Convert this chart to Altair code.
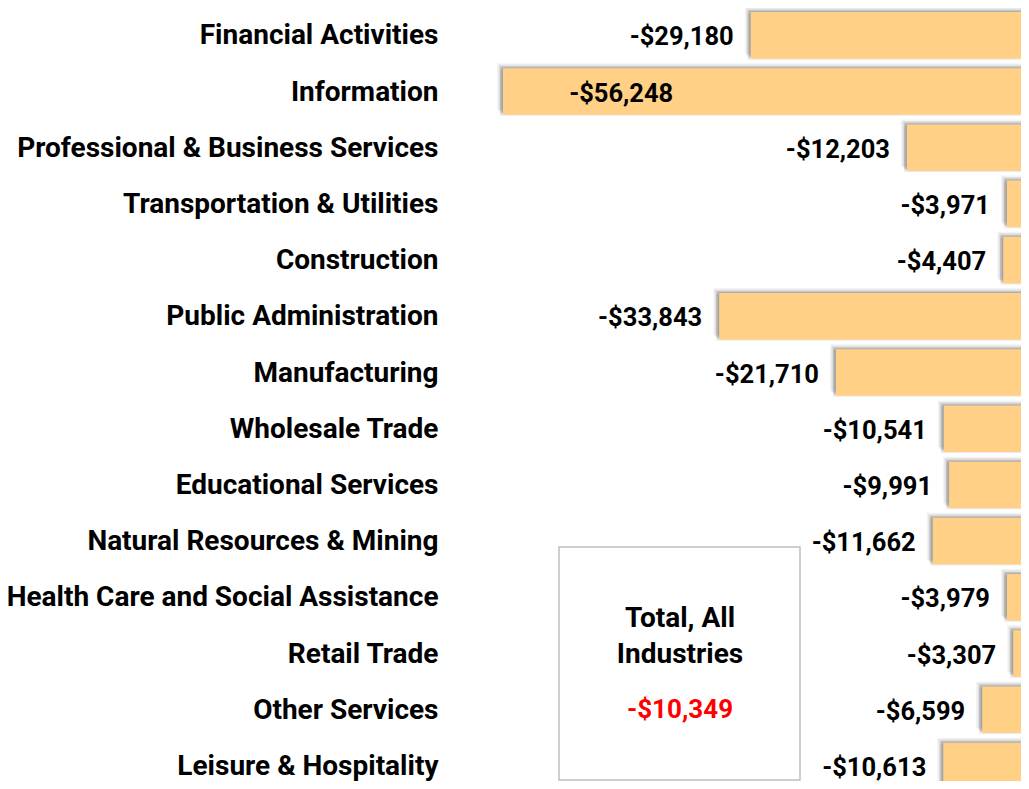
import altair as alt
import pandas as pd

# ---- data ----
industries = [
    "Financial Activities", "Information", "Professional & Business Services",
    "Transportation & Utilities", "Construction", "Public Administration",
    "Manufacturing", "Wholesale Trade", "Educational Services",
    "Natural Resources & Mining", "Health Care and Social Assistance",
    "Retail Trade", "Other Services", "Leisure & Hospitality",
]
wage_change = [-29180, -56248, -12203, -3971, -4407, -33843, -21710,
               -10541, -9991, -11662, -3979, -3307, -6599, -10613]
# visible bar lengths (relative, Information = 100)
bar_length = [52.9, 100, 23.2, 4.2, 4.9, 58.9, 36.7,
              16.2, 15.2, 18.3, 4.2, 3.0, 8.9, 16.3]
total_lines = ["Total, All", "Industries"]
total_value = -10349

FONT = "Roboto"
FS = 28       # category / box text
VFS = 25.5    # dollar values
BAR = "#FFD085"

df = pd.DataFrame({
    "industry": industries,
    "change": wage_change,
    "start": [-v for v in bar_length],
})
df["end"] = 0.0
df["label"] = ["-$" + f"{abs(v):,}" for v in wage_change]
df["label_pos"] = df["start"].clip(lower=-64.4)

xscale = alt.Scale(domain=[-100, 0], nice=False, zero=False, range=[0, 526])
yscale = alt.Scale(domain=industries, paddingInner=0.17, paddingOuter=0.071,
                   range=[0, 785.3])

base = alt.Chart(df)


def shadow(dx, dy, op):
    return base.mark_bar(color="#5a5a5a", opacity=op, xOffset=dx, yOffset=dy).encode(
        x=alt.X("start:Q", scale=xscale, axis=None),
        x2="end:Q",
        y=alt.Y("industry:N", scale=yscale, sort=industries,
                axis=alt.Axis(title=None, domain=False, ticks=False,
                              labelFont=FONT, labelFontSize=FS,
                              labelFontWeight="bold", labelColor="black",
                              labelPadding=65, labelLimit=0, labelOffset=1)),
    )


shadows = (shadow(-6, -5, 0.07) + shadow(-4.5, -3.5, 0.12)
           + shadow(-3, -2, 0.18) + shadow(-3, 1, 0.12)
           + shadow(-1.5, -1, 0.22))

bars = base.mark_bar(color=BAR).encode(
    x=alt.X("start:Q", scale=xscale, axis=None),
    x2="end:Q",
    y=alt.Y("industry:N", scale=yscale, sort=industries),
)

labels = base.mark_text(align="right", baseline="middle", dx=-17, dy=2,
                        font=FONT, fontSize=VFS, fontWeight="bold",
                        color="black").encode(
    x=alt.X("label_pos:Q", scale=xscale),
    y=alt.Y("industry:N", scale=yscale, sort=industries),
    text="label:N",
)

ann = alt.Chart(pd.DataFrame({"k": [0]}))
box = ann.mark_rect(fill="white", stroke="#BFBFBF", strokeWidth=1.5).encode(
    x=alt.value(56), x2=alt.value(297), y=alt.value(539), y2=alt.value(772))
layers = [shadows, bars, labels, box]
for i, line in enumerate(total_lines):
    layers.append(ann.mark_text(align="center", baseline="middle",
                                font=FONT, fontSize=FS, fontWeight="bold",
                                color="black").encode(
        x=alt.value(177), y=alt.value(611 + 36 * i), text=alt.value(line)))
layers.append(ann.mark_text(align="center", baseline="middle",
                            font=FONT, fontSize=VFS + 0.5, fontWeight="bold",
                            color="#FF0000").encode(
    x=alt.value(177), y=alt.value(702),
    text=alt.value("-$" + f"{abs(total_value):,}")))

chart = alt.layer(*layers).properties(
    width=518, height=773,
    background="white",
    autosize=alt.AutoSizeParams(type="none"),
    padding={"left": 495, "top": 0, "right": 0, "bottom": 0},
).configure_view(stroke="transparent", strokeWidth=0)

chart.save("out.html", embed_options={"renderer": "svg", "actions": False})
